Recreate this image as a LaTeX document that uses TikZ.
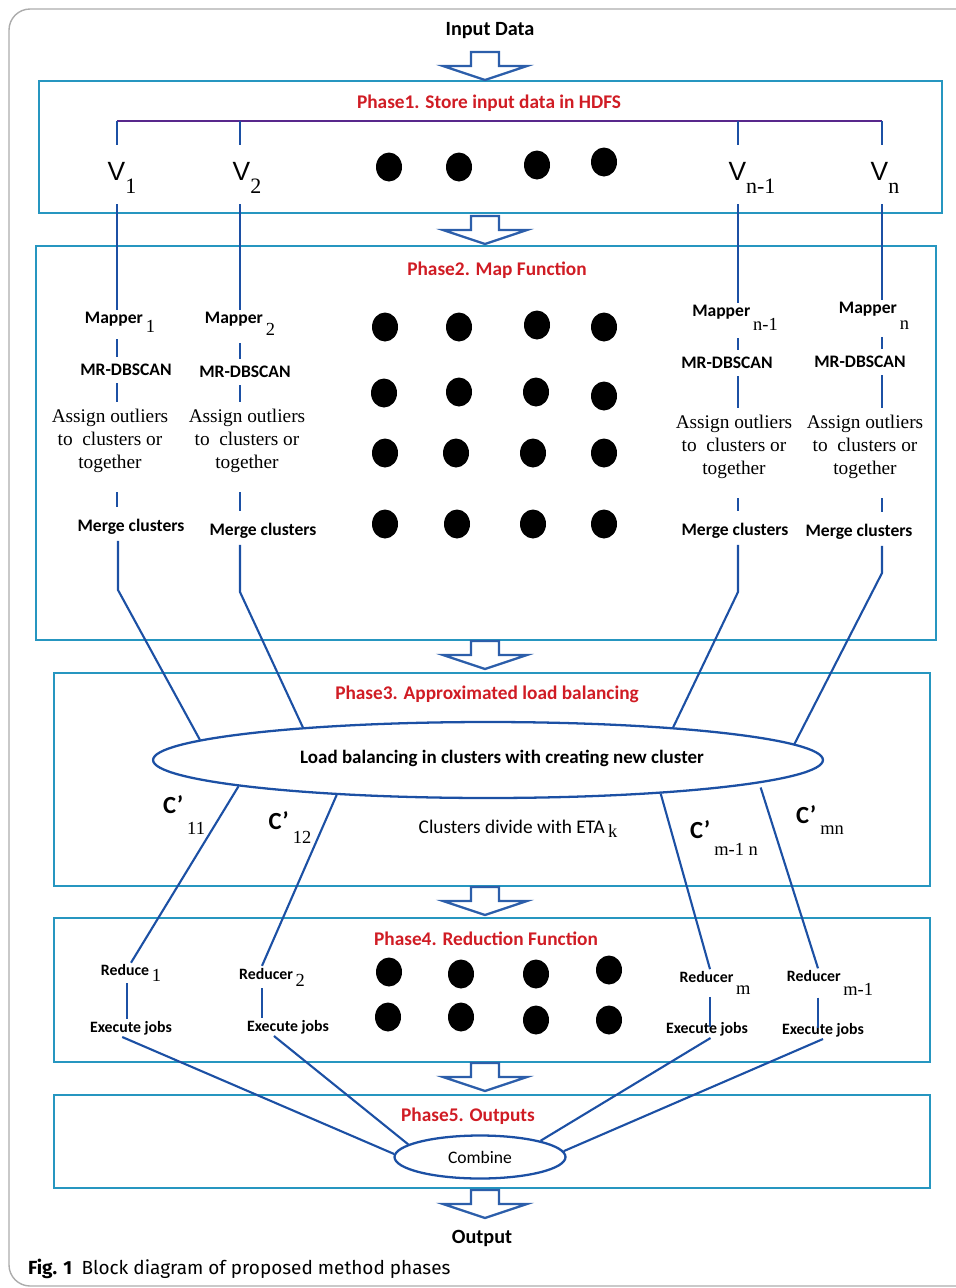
\documentclass[tikz,border=0pt]{standalone}
\usepackage{fontspec}
\setmainfont{Carlito}
\newfontfamily\idxserif{Liberation Serif}
\newfontfamily\vfont{Liberation Sans}
\newfontfamily\capfont{Fira Sans}
\usepackage{xcolor}
\usepackage{tikz}
\usetikzlibrary{shapes.geometric, positioning}

\definecolor{boxblue}{RGB}{38,150,192}
\definecolor{lineblue}{RGB}{28,80,164}
\definecolor{arrowblue}{RGB}{44,94,170}
\definecolor{titlered}{RGB}{208,28,36}
\definecolor{buspurple}{RGB}{88,40,140}

\newcommand{\lowidx}[2][5pt]{\,\raisebox{-#1}{\mdseries\idxserif\fontsize{10.5}{10.5}\selectfont #2}}
\newcommand{\bigidx}[2][7pt]{\raisebox{-#1}{\mdseries\idxserif\fontsize{12.5}{12.5}\selectfont #2}}

\tikzset{
    phase/.style = {draw=boxblue, line width=1.4pt},
    phasetitle/.style = {text=titlered, font=\bfseries\fontsize{11}{13}\selectfont},
    lbl/.style = {font=\bfseries\fontsize{10}{12}\selectfont, inner sep=1pt},
    vlbl/.style = {font=\vfont\fontsize{15}{15}\selectfont, inner sep=1pt},
    clbl/.style = {font=\bfseries\fontsize{14}{14}\selectfont, inner sep=1pt},
    redlbl/.style = {font=\bfseries\fontsize{9}{11}\selectfont, inner sep=1pt},
    assign/.style = {font=\idxserif\fontsize{11}{13}\selectfont, align=center, inner sep=1pt},
    link/.style = {draw=lineblue, line width=1.2pt},
    gapline/.style = {link, shorten <=3pt, shorten >=3pt},
    blob/.style = {fill=black},
    hollowdown/.pic = {
        \draw[arrowblue, line width=1.3pt, fill=white]
            (-14,0) -- (14,0) -- (14,14) -- (42,14) -- (0,28) -- (-42,14) -- (-14,14) -- cycle;
    }
}

\begin{document}
\begin{tikzpicture}[x=0.02cm, y=-0.02cm]
    \useasboundingbox (0,0) rectangle (956,1288);
    \draw[gray!65, line width=0.8pt, rounded corners=12] (980,9) -- (9,9) -- (9,1286) -- (980,1286);

    \draw[phase] (39,81) rectangle (942,213);
    \draw[phase] (36,246) rectangle (936,640);
    \draw[phase] (54,673) rectangle (930,886);
    \draw[phase] (54,918) rectangle (930,1062);
    \draw[phase] (54,1095) rectangle (930,1188);

    \pic at (485,52) {hollowdown};
    \pic at (485,216) {hollowdown};
    \pic at (485,641) {hollowdown};
    \pic at (485,887) {hollowdown};
    \pic at (485,1063) {hollowdown};
    \pic at (485,1190) {hollowdown};

    \node (input) at (490,31) [font=\bfseries\fontsize{11.5}{13}\selectfont] {Input Data};
    \node (output) at (482,1238) [font=\bfseries\fontsize{11.5}{13}\selectfont] {Output};

    \node (p1) at (489,103) [phasetitle] {Phase1. Store input data in HDFS};
    \node (p2) at (497,270) [phasetitle] {Phase2. Map Function};
    \node (p3) at (487,694) [phasetitle] {Phase3. Approximated load balancing};
    \node (p4) at (486,939) [phasetitle] {Phase4. Reduction Function};
    \node (p5) at (468,1116) [phasetitle] {Phase5. Outputs};

    \coordinate (b1) at (117,121);
    \coordinate (b2) at (240,121);
    \coordinate (b3) at (738,121);
    \coordinate (b4) at (882,121);
    \draw[buspurple, line width=1.3pt] (b1) -- (b4);

    \node (v1) at (122,178) [vlbl] {V\bigidx{1}};
    \node (v2) at (247,178) [vlbl] {V\bigidx{2}};
    \node (vn1) at (752,178) [vlbl] {V\bigidx{n-1}};
    \node (vn) at (885,178) [vlbl] {V\bigidx{n}};

    \node (map1) at (120,322) [lbl] {Mapper\lowidx{1}};
    \node (map2) at (240,324) [lbl] {Mapper\lowidx[7pt]{2}};
    \node (mapn1) at (735,318) [lbl] {Mapper\lowidx[8pt]{n-1}};
    \node (mapn) at (874,316) [lbl] {Mapper\lowidx[9pt]{n}};

    \node (mr1) at (126,370) [lbl] {MR-DBSCAN};
    \node (mr2) at (245,372) [lbl] {MR-DBSCAN};
    \node (mrn1) at (727,363) [lbl] {MR-DBSCAN};
    \node (mrn) at (860,362) [lbl] {MR-DBSCAN};

    \node (as1) at (110,441) [assign] {Assign outliers\\to\enspace clusters or\\together};
    \node (as2) at (247,441) [assign] {Assign outliers\\to\enspace clusters or\\together};
    \node (asn1) at (734,447) [assign] {Assign outliers\\to\enspace clusters or\\together};
    \node (asn) at (865,447) [assign] {Assign outliers\\to\enspace clusters or\\together};

    \node (mg1) at (131,527) [lbl] {Merge clusters};
    \node (mg2) at (263,531) [lbl] {Merge clusters};
    \node (mgn1) at (735,531) [lbl] {Merge clusters};
    \node (mgn) at (859,532) [lbl] {Merge clusters};

    \foreach \px/\py in {389/167, 459/167, 537/165, 604/162,
                         385/327, 459/327, 537/325, 604/327,
                         384/393, 459/392, 536/392, 604/396,
                         385/453, 456/453, 533/453, 604/453,
                         385/524, 457/524, 533/524, 604/524,
                         389/972, 461/974, 536/974, 609/970,
                         388/1017, 461/1017, 536/1020, 609/1020}
        \fill[blob] (\px,\py) ellipse [x radius=13, y radius=14.5];

    \node (lb) at (488,760) [ellipse, draw=lineblue, line width=1.3pt, minimum width=13.4cm, minimum height=1.52cm, inner sep=0pt, font=\bfseries\fontsize{10.8}{12}\selectfont] {\hspace{16pt}\raisebox{4pt}{Load balancing in clusters with creating new cluster}};

    \node (c11) at (184,815) [clbl] {C’\lowidx[12pt]{11}};
    \node (c12) at (290,828) [clbl] {C’\lowidx[8pt]{12}};
    \node (eta) at (518,829) [font=\fontsize{11}{13}\selectfont] {Clusters divide with ETA\lowidx[2pt]{k}};
    \node (cm1n) at (724,838) [clbl] {C’\lowidx[10pt]{m-1 n}};
    \node (cmn) at (820,820) [clbl] {C’\lowidx[6pt]{mn}};

    \node (red1) at (131,973) [redlbl] {Reduce\lowidx[3pt]{1}};
    \node (red2) at (272,977) [redlbl] {Reducer\lowidx[4pt]{2}};
    \node (redm) at (715,983) [redlbl] {Reducer\lowidx[7pt]{m}};
    \node (redm1) at (830,983) [redlbl] {Reducer\lowidx[8pt]{m-1}};

    \node (ex1) at (131,1028) [redlbl] {Execute jobs};
    \node (ex2) at (288,1027) [redlbl] {Execute jobs};
    \node (exm) at (707,1029) [redlbl] {Execute jobs};
    \node (exm1) at (823,1030) [redlbl] {Execute jobs};

    \node (cb) at (480,1157) [ellipse, draw=lineblue, line width=1.3pt, minimum width=3.42cm, minimum height=0.86cm, inner sep=0pt, font=\fontsize{10}{12}\selectfont] {Combine};

    \coordinate (e1) at (118,590);
    \coordinate (e2) at (240,592);
    \coordinate (e3) at (738,592);
    \coordinate (e4) at (882,573);
    \coordinate (k1) at (127,0);
    \coordinate (k2) at (262,0);
    \coordinate (k3) at (710,0);
    \coordinate (k4) at (818,0);

    \draw[link] (b1) -- ++(0,24);
    \draw[link] (b2) -- ++(0,24);
    \draw[link] (b3) -- ++(0,24);
    \draw[link] (b4) -- ++(0,24);

    \draw[link, shorten <=5pt] (v1.south -| b1) -- (map1.north -| b1);
    \draw[link, shorten <=5pt] (v2.south -| b2) -- (map2.north -| b2);
    \draw[link, shorten <=5pt] (vn1.south -| b3) -- (mapn1.north -| b3);
    \draw[link, shorten <=5pt] (vn.south -| b4) -- (mapn.north -| b4);

    \path [gapline]
        (map1.south -| b1) edge (mr1.north -| b1)
        (map2.south -| b2) edge (mr2.north -| b2)
        (mapn1.south -| b3) edge (mrn1.north -| b3)
        (mapn.south -| b4) edge (mrn.north -| b4)
        (mr1.south -| b1) edge (as1.north -| b1)
        (mr2.south -| b2) edge (as2.north -| b2)
        (mrn1.south -| b3) edge (asn1.north -| b3)
        (mrn.south -| b4) edge (asn.north -| b4);
    \path [link, shorten <=10pt, shorten >=6pt]
        (as1.south -| b1) edge (mg1.north -| b1)
        (as2.south -| b2) edge (mg2.north -| b2)
        (asn1.south -| b3) edge (mgn1.north -| b3)
        (asn.south -| b4) edge (mgn.north -| b4);

    \draw[link] (mg1.south -| e1) ++(0,4) -- (e1) -- (lb.176);
    \draw[link] (mg2.south -| e2) ++(0,4) -- (e2) -- (lb.170);
    \draw[link] (mgn1.south -| e3) ++(0,4) -- (e3) -- (lb.10);
    \draw[link] (mgn.south -| e4) ++(0,4) -- (e4) -- (lb.3);

    \path [link]
        (lb.186) edge (red1.north)
        (lb.193) edge (red2.north -| k2)
        (lb.349) edge (redm.north -| k3)
        ([shift={(4,4)}]lb.-5) edge (redm1.north -| k4)
        (red1.south -| k1) edge (ex1.north -| k1)
        (red2.south -| k2) edge (ex2.north -| k2)
        (redm.south -| k3) edge ([yshift=-4pt]exm.north -| k3)
        (redm1.south -| k4) edge ([yshift=-4pt]exm1.north -| k4)
        ([xshift=-5pt]ex1.south) edge (cb.178)
        ([xshift=-8pt]ex2.south) edge (cb.170)
        ([xshift=2pt]exm.south) edge (cb.15)
        (exm1.south) edge (cb.4);

    \node (caption) at (22,1269) [anchor=west, font=\capfont\fontsize{10.8}{12}\selectfont] {\textbf{Fig. 1}\enspace Block diagram of proposed method phases};
\end{tikzpicture}
\end{document}
